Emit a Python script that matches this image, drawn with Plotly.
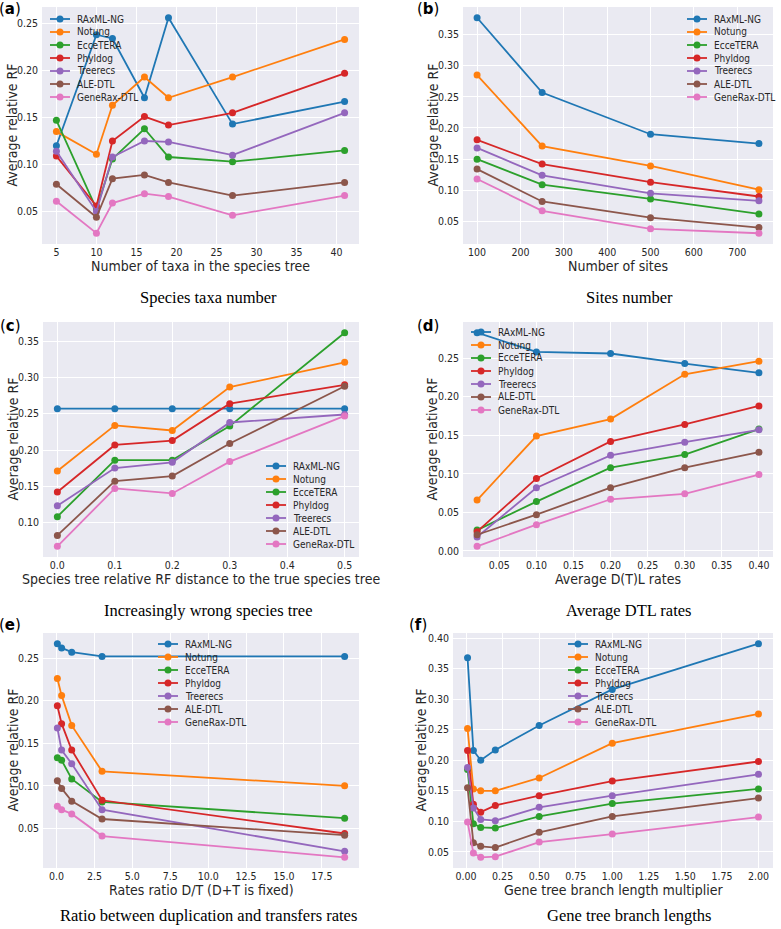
import plotly.graph_objects as go

W, H = 781, 929

methods = ["RAxML-NG", "Notung", "EcceTERA", "Phyldog", "Treerecs", "ALE-DTL", "GeneRax-DTL"]
colors = ["#1f77b4", "#ff7f0e", "#2ca02c", "#d62728", "#9467bd", "#8c564b", "#e377c2"]

# (a) species taxa number
xa = [5, 10, 12, 16, 19, 27, 41]
a_raxml = [0.120, 0.238, 0.234, 0.171, 0.256, 0.143, 0.167]
a_notung = [0.135, 0.111, 0.163, 0.193, 0.171, 0.193, 0.233]
a_ecce = [0.147, 0.053, 0.106, 0.138, 0.108, 0.103, 0.115]
a_phyldog = [0.109, 0.056, 0.125, 0.151, 0.142, 0.155, 0.197]
a_treerecs = [0.114, 0.050, 0.108, 0.125, 0.124, 0.110, 0.155]
a_ale = [0.079, 0.044, 0.085, 0.089, 0.081, 0.067, 0.081]
a_generax = [0.061, 0.027, 0.059, 0.069, 0.066, 0.046, 0.067]

# (b) sites number
xb = [100, 250, 500, 750]
b_raxml = [0.377, 0.257, 0.190, 0.175]
b_notung = [0.285, 0.171, 0.139, 0.101]
b_ecce = [0.150, 0.109, 0.086, 0.062]
b_phyldog = [0.181, 0.142, 0.113, 0.090]
b_treerecs = [0.168, 0.124, 0.095, 0.083]
b_ale = [0.134, 0.082, 0.056, 0.040]
b_generax = [0.118, 0.067, 0.038, 0.031]

# (c) increasingly wrong species tree
xc = [0.0, 0.1, 0.2, 0.3, 0.5]
c_raxml = [0.257, 0.257, 0.257, 0.257, 0.257]
c_notung = [0.171, 0.234, 0.227, 0.287, 0.321]
c_ecce = [0.108, 0.186, 0.186, 0.233, 0.362]
c_phyldog = [0.142, 0.207, 0.213, 0.264, 0.290]
c_treerecs = [0.123, 0.175, 0.183, 0.238, 0.249]
c_ale = [0.082, 0.157, 0.164, 0.209, 0.288]
c_generax = [0.067, 0.147, 0.140, 0.184, 0.247]

# (d) average DTL rates
xd = [0.02, 0.1, 0.2, 0.3, 0.4]
d_raxml = [0.283, 0.258, 0.256, 0.243, 0.231]
d_notung = [0.066, 0.149, 0.171, 0.229, 0.246]
d_ecce = [0.027, 0.064, 0.108, 0.125, 0.158]
d_phyldog = [0.025, 0.094, 0.142, 0.164, 0.188]
d_treerecs = [0.018, 0.082, 0.124, 0.141, 0.157]
d_ale = [0.021, 0.047, 0.082, 0.108, 0.128]
d_generax = [0.006, 0.034, 0.067, 0.074, 0.099]

# (e) ratio D/T
xe = [0.053, 0.333, 1, 3, 19]
e_raxml = [0.267, 0.262, 0.257, 0.252, 0.252]
e_notung = [0.226, 0.206, 0.171, 0.117, 0.100]
e_ecce = [0.133, 0.130, 0.108, 0.081, 0.062]
e_phyldog = [0.194, 0.173, 0.142, 0.083, 0.044]
e_treerecs = [0.168, 0.142, 0.126, 0.072, 0.023]
e_ale = [0.106, 0.097, 0.082, 0.061, 0.042]
e_generax = [0.076, 0.072, 0.067, 0.041, 0.016]

# (f) gene tree branch lengths
xf = [0.01, 0.05, 0.1, 0.2, 0.5, 1, 2]
f_raxml = [0.368, 0.216, 0.200, 0.217, 0.257, 0.316, 0.391]
f_notung = [0.252, 0.153, 0.150, 0.150, 0.171, 0.228, 0.276]
f_ecce = [0.185, 0.096, 0.090, 0.089, 0.108, 0.129, 0.153]
f_phyldog = [0.216, 0.128, 0.115, 0.126, 0.142, 0.166, 0.198]
f_treerecs = [0.188, 0.122, 0.103, 0.101, 0.123, 0.142, 0.177]
f_ale = [0.155, 0.065, 0.059, 0.057, 0.082, 0.108, 0.138]
f_generax = [0.099, 0.048, 0.041, 0.042, 0.066, 0.079, 0.107]

xtitles = ["Number of taxa in the species tree", "Number of sites",
           "Species tree relative RF distance to the true species tree", "Average D(T)L rates",
           "Rates ratio D/T (D+T is fixed)", "Gene tree branch length multiplier"]
subtitles = ["Species taxa number", "Sites number", "Increasingly wrong species tree",
             "Average DTL rates", "Ratio between duplication and transfers rates",
             "Gene tree branch lengths"]
letters = ["a", "b", "c", "d", "e", "f"]

panels = [
    (xa, [a_raxml, a_notung, a_ecce, a_phyldog, a_treerecs, a_ale, a_generax]),
    (xb, [b_raxml, b_notung, b_ecce, b_phyldog, b_treerecs, b_ale, b_generax]),
    (xc, [c_raxml, c_notung, c_ecce, c_phyldog, c_treerecs, c_ale, c_generax]),
    (xd, [d_raxml, d_notung, d_ecce, d_phyldog, d_treerecs, d_ale, d_generax]),
    (xe, [e_raxml, e_notung, e_ecce, e_phyldog, e_treerecs, e_ale, e_generax]),
    (xf, [f_raxml, f_notung, f_ecce, f_phyldog, f_treerecs, f_ale, f_generax]),
]

# layout (pixels): plot box (left, right, top, bottom)
boxes = [(42, 359, 7, 244), (463, 773, 7, 244),
         (43, 359, 322, 557), (463, 773, 322, 557),
         (43, 359, 633, 868), (453, 773, 633, 868)]
xticks = [dict(tick0=5, dtick=5, tickformat="d"), dict(tick0=100, dtick=100, tickformat="d"),
          dict(tick0=0, dtick=0.1, tickformat=".1f"), dict(tick0=0.05, dtick=0.05, tickformat=".2f"),
          dict(tick0=0, dtick=2.5, tickformat=".1f"), dict(tick0=0, dtick=0.25, tickformat=".2f")]
# legend placement: (line start x, first row y)
legpos = [(50, 19), (687, 19), (266, 466), (471, 332), (158, 644), (568, 644)]
ytitle_x = [12, 433, 12, 431, 12, 420]
subtitle_y = [297, 297, 610, 610, 915, 915]
subtitle_x = [208, 629, 208, 629, 208, 629]
label_pos = [(10, 9), (428, 9), (10, 326), (428, 326), (10, 625), (418, 625)]

SANS = "DejaVu Sans Condensed, DejaVu Sans, sans-serif"
SERIF = "Liberation Serif, DejaVu Serif, serif"
TXT = "#262626"

fig = go.Figure()
annotations = []
shapes = []


def px_x(p):
    return p / W


def px_y(p):
    return 1 - p / H


for i, (xs, series) in enumerate(panels):
    n = i + 1
    xa_name = "x" if n == 1 else f"x{n}"
    ya_name = "y" if n == 1 else f"y{n}"
    for m, ys in enumerate(series):
        fig.add_trace(go.Scatter(x=xs, y=ys, mode="lines+markers", name=methods[m],
                                 xaxis=xa_name, yaxis=ya_name, showlegend=False,
                                 line=dict(color=colors[m], width=1.8),
                                 marker=dict(color=colors[m], size=7)))
    allv = [v for s in series for v in s]
    ymin, ymax = min(allv), max(allv)
    ym = 0.05 * (ymax - ymin)
    xmin, xmax = min(xs), max(xs)
    xm = 0.05 * (xmax - xmin)
    l, r, t, b = boxes[i]
    key = "" if n == 1 else str(n)
    fig.layout["xaxis" + key] = dict(
        domain=[px_x(l), px_x(r)], range=[xmin - xm, xmax + xm], anchor=ya_name,
        tickmode="linear", **xticks[i], showgrid=True, gridcolor="white", gridwidth=1.2,
        zeroline=False, showline=False, ticks="", ticklabelstandoff=0,
        tickfont=dict(family=SANS, size=10.5, color=TXT))
    fig.layout["yaxis" + key] = dict(
        domain=[px_y(b), px_y(t)], range=[ymin - ym, ymax + ym], anchor=xa_name,
        tickmode="linear", tick0=0, dtick=0.05, tickformat=".2f",
        showgrid=True, gridcolor="white", gridwidth=1.2, zeroline=False, showline=False,
        ticks="", ticklabelstandoff=3, tickfont=dict(family=SANS, size=10.5, color=TXT))

    # axis titles
    annotations.append(dict(text=xtitles[i], x=px_x((l + r) / 2), y=px_y(b + 22),
                            xref="paper", yref="paper", showarrow=False, xanchor="center",
                            yanchor="middle", font=dict(family=SANS, size=14, color=TXT)))
    annotations.append(dict(text="Average relative RF", x=px_x(ytitle_x[i]), y=px_y((t + b) / 2),
                            xref="paper", yref="paper", showarrow=False, textangle=-90,
                            xanchor="center", yanchor="middle",
                            font=dict(family=SANS, size=14, color=TXT)))
    annotations.append(dict(text=subtitles[i], x=px_x(subtitle_x[i]), y=px_y(subtitle_y[i]),
                            xref="paper", yref="paper", showarrow=False, xanchor="center",
                            yanchor="middle", font=dict(family=SERIF, size=16.5, color="black")))
    lx, ly = label_pos[i]
    annotations.append(dict(text=f"(<b>{letters[i]}</b>)", x=px_x(lx), y=px_y(ly),
                            xref="paper", yref="paper", showarrow=False, xanchor="center",
                            yanchor="middle", font=dict(family="DejaVu Sans, sans-serif", size=15, color="black")))

    # legend
    gx, gy = legpos[i]
    for m, name in enumerate(methods):
        yy = gy + 13 * m
        shapes.append(dict(type="line", xref="paper", yref="paper",
                           x0=px_x(gx), x1=px_x(gx + 20), y0=px_y(yy), y1=px_y(yy),
                           line=dict(color=colors[m], width=1.8)))
        shapes.append(dict(type="circle", xref="paper", yref="paper", xsizemode="pixel",
                           ysizemode="pixel", xanchor=px_x(gx + 10), yanchor=px_y(yy),
                           x0=-3.5, x1=3.5, y0=-3.5, y1=3.5, fillcolor=colors[m],
                           line=dict(width=0)))
        annotations.append(dict(text=name, x=px_x(gx + 25), y=px_y(yy), xref="paper", yref="paper",
                                showarrow=False, xanchor="left", yanchor="middle",
                                font=dict(family=SANS, size=10, color=TXT)))

fig.update_layout(width=W, height=H, margin=dict(l=0, r=0, t=0, b=0),
                  paper_bgcolor="white", plot_bgcolor="#EAEAF2",
                  annotations=annotations, shapes=shapes, showlegend=False)

fig.write_html("out.html", config={"displayModeBar": False},
               post_script="document.body.style.margin='0';document.body.style.overflow='hidden';")
